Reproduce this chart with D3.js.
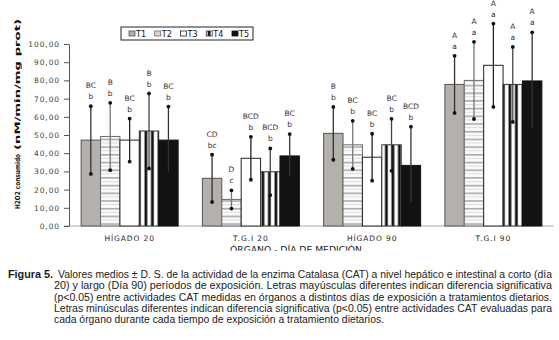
<!DOCTYPE html>
<html>
<head>
<meta charset="utf-8">
<script src="https://cdn.jsdelivr.net/npm/d3@7"></script>
<style>
  body { margin: 0; background: #fff; }
  svg { display: block; }
</style>
</head>
<body>
<div class="chart-container"></div>
<script>
// groups on the x axis, one bar per treatment in each
const groups = ['HÍGADO 20', 'T.G.I 20', 'HÍGADO 90', 'T.G.I 90'];
const treatments = ['T1', 'T2', 'T3', 'T4', 'T5'];

// means (H2O2 consumido) per treatment, in group order
const meanT1 = [47.2, 26.2, 50.9, 77.8];
const meanT2 = [49.2, 14.6, 44.6, 80.0];
const meanT3 = [47.2, 37.2, 37.8, 88.3];
const meanT4 = [52.2, 29.8, 44.6, 77.8];
const meanT5 = [47.2, 38.5, 33.3, 79.7];

// standard deviations
const sdT1 = [18.6, 13.0, 14.5, 15.7];
const sdT2 = [18.5, 5.0, 13.2, 21.2];
const sdT3 = [11.8, 11.8, 12.9, 22.9];
const sdT4 = [20.6, 12.8, 14.3, 20.6];
const sdT5 = [18.4, 12.0, 21.3, 26.7];

// significance letters
const upperT1 = ['BC', 'CD', 'B', 'A'];
const upperT2 = ['B', 'D', 'BC', 'A'];
const upperT3 = ['BC', 'BCD', 'BC', 'A'];
const upperT4 = ['B', 'BCD', 'BC', 'A'];
const upperT5 = ['BC', 'BC', 'BCD', 'A'];
const lowerT1 = ['b', 'bc', 'b', 'a'];
const lowerT2 = ['b', 'c', 'b', 'a'];
const lowerT3 = ['b', 'b', 'b', 'a'];
const lowerT4 = ['b', 'b', 'b', 'a'];
const lowerT5 = ['b', 'b', 'b', 'a'];

const yTicks = [0, 10, 20, 30, 40, 50, 60, 70, 80, 90, 100];

const yTitleA = 'H2O2 consumido';
const yTitleB = '(nM/min/mg prot)';
const xTitle = 'ÓRGANO - DÍA DE MEDICIÓN';
const captionLead = 'Figura 5.';
const captionLines = [
    'Valores medios ± D. S. de la actividad de la enzima Catalasa (CAT) a nivel hepático e intestinal a corto (día',
    '20) y largo (Día 90) períodos de exposición. Letras mayúsculas diferentes indican diferencia significativa',
    '(p<0.05) entre actividades CAT medidas en órganos a distintos días de exposición a tratamientos dietarios.',
    'Letras minúsculas diferentes indican diferencia significativa (p<0.05) entre actividades CAT evaluadas para',
    'cada órgano durante cada tiempo de exposición a tratamiento dietarios.'
];

const means = [meanT1, meanT2, meanT3, meanT4, meanT5];
const sds = [sdT1, sdT2, sdT3, sdT4, sdT5];
const uppers = [upperT1, upperT2, upperT3, upperT4, upperT5];
const lowers = [lowerT1, lowerT2, lowerT3, lowerT4, lowerT5];

const data = [];
groups.forEach((g, gi) => {
    treatments.forEach((t, ti) => {
        data.push({group: g, t: t, mean: means[ti][gi], sd: sds[ti][gi],
                   upper: uppers[ti][gi], lower: lowers[ti][gi]});
    });
});

const width = 559, height = 340;
const margin = {top: 44, right: 5, bottom: 114, left: 69};

const svg = d3.select('.chart-container').append('svg')
    .attr('width', width)
    .attr('height', height)
    .style('background', '#fff');

const defs = svg.append('defs');

// horizontal light stripes (T2)
const hp = defs.append('pattern')
    .attr('id', 'hstripe')
    .attr('patternUnits', 'userSpaceOnUse')
    .attr('width', 8).attr('height', 7.7);
hp.append('rect').attr('width', 8).attr('height', 7.7).attr('fill', '#fbfbfb');
hp.append('rect').attr('y', 0).attr('width', 8).attr('height', 1.6).attr('fill', '#a9a9a9');
hp.append('rect').attr('y', 3.9).attr('width', 8).attr('height', 1).attr('fill', '#dcdcdc');

// vertical black stripes (T4)
const vp = defs.append('pattern')
    .attr('id', 'vstripe')
    .attr('patternUnits', 'userSpaceOnUse')
    .attr('width', 6.5).attr('height', 10);
vp.append('rect').attr('width', 6.5).attr('height', 10).attr('fill', '#fff');
vp.append('rect').attr('x', 1.5).attr('width', 2.8).attr('height', 10).attr('fill', '#111');

const fills = {T1: '#b4b1ac', T2: 'url(#hstripe)', T3: '#fff', T4: 'url(#vstripe)', T5: '#121212'};
const strokes = {T1: '#555', T2: '#6a6a6a', T3: '#222', T4: '#333', T5: '#111'};
const whisker = {T1: '#333', T2: '#777', T3: '#222', T4: '#444', T5: '#333'};

const x0 = d3.scaleBand()
    .domain(groups)
    .range([margin.left, width - margin.right])
    .paddingInner(0.2)
    .paddingOuter(0.1);

const x1 = d3.scaleBand()
    .domain(treatments)
    .range([0, x0.bandwidth()]);

const y = d3.scaleLinear()
    .domain([0, 100])
    .range([height - margin.bottom, margin.top]);

// x baseline
svg.append('line')
    .attr('x1', margin.left - 5).attr('x2', width - margin.right)
    .attr('y1', y(0)).attr('y2', y(0))
    .attr('stroke', '#aaa').attr('stroke-width', 1);

// bars
svg.selectAll('.bar')
    .data(data)
    .enter()
    .append('rect')
    .attr('class', 'bar')
    .attr('x', d => x0(d.group) + x1(d.t))
    .attr('y', d => y(d.mean))
    .attr('width', x1.bandwidth())
    .attr('height', d => y(0) - y(d.mean))
    .attr('fill', d => fills[d.t])
    .attr('stroke', d => strokes[d.t])
    .attr('stroke-width', 1);

// error bars
const eb = svg.selectAll('.err')
    .data(data)
    .enter()
    .append('g')
    .attr('class', 'err')
    .attr('transform', d => `translate(${x0(d.group) + x1(d.t) + x1.bandwidth() / 2},0)`);

eb.append('line')
    .attr('y1', d => y(d.mean - d.sd))
    .attr('y2', d => y(d.mean + d.sd))
    .attr('stroke', d => whisker[d.t])
    .attr('stroke-width', 1.3);

eb.append('circle')
    .attr('cy', d => y(d.mean + d.sd))
    .attr('r', 1.9)
    .attr('fill', '#111');

eb.append('circle')
    .attr('cy', d => y(d.mean - d.sd))
    .attr('r', 1.9)
    .attr('fill', '#111');

eb.append('text')
    .text(d => d.lower)
    .attr('y', d => y(d.mean + d.sd) - 7)
    .attr('text-anchor', 'middle')
    .attr('font-family', 'DejaVu Sans, sans-serif')
    .attr('font-size', 7.5)
    .attr('fill', '#2f2a3a');

eb.append('text')
    .text(d => d.upper)
    .attr('y', d => y(d.mean + d.sd) - 18)
    .attr('text-anchor', 'middle')
    .attr('font-family', 'DejaVu Sans, sans-serif')
    .attr('font-size', 7.5)
    .attr('fill', '#3d2e2e');

// y axis
const yAxis = d3.axisLeft(y)
    .tickValues(yTicks)
    .tickSize(5)
    .tickSizeOuter(0)
    .tickPadding(4)
    .tickFormat(d => d.toFixed(2).replace('.', ','));

const ya = svg.append('g')
    .attr('transform', `translate(${margin.left},0)`)
    .call(yAxis);
ya.select('.domain').attr('stroke', '#555');
ya.selectAll('.tick line').attr('stroke', '#555');
ya.selectAll('.tick text')
    .attr('font-family', 'DejaVu Sans, sans-serif')
    .attr('font-size', 7.5)
    .attr('letter-spacing', 0.9)
    .attr('fill', '#444');

// group labels
svg.selectAll('.glabel')
    .data(groups)
    .enter()
    .append('text')
    .attr('class', 'glabel')
    .text(d => d)
    .attr('x', d => x0(d) + x0.bandwidth() / 2)
    .attr('y', 241)
    .attr('text-anchor', 'middle')
    .attr('font-family', 'DejaVu Sans, sans-serif')
    .attr('font-size', 7.5)
    .attr('letter-spacing', 0.9)
    .attr('fill', '#222');

// x title, cut off by the caption area
defs.append('clipPath').attr('id', 'xcut')
    .append('rect').attr('x', 0).attr('y', 200).attr('width', width).attr('height', 50.8);
svg.append('text')
    .attr('clip-path', 'url(#xcut)')
    .text(xTitle)
    .attr('x', 230)
    .attr('y', 252.5)
    .attr('textLength', 132)
    .attr('lengthAdjust', 'spacingAndGlyphs')
    .attr('font-family', 'DejaVu Sans, sans-serif')
    .attr('font-size', 8)
    .attr('fill', '#222');

// y title
svg.append('text')
    .text(yTitleA)
    .attr('transform', 'translate(20,209) rotate(-90)')
    .attr('textLength', 55)
    .attr('lengthAdjust', 'spacingAndGlyphs')
    .attr('font-family', 'DejaVu Sans, sans-serif')
    .attr('font-weight', 'bold')
    .attr('font-size', 7)
    .attr('fill', '#111');
svg.append('text')
    .text(yTitleB)
    .attr('transform', 'translate(20,150) rotate(-90)')
    .attr('textLength', 131)
    .attr('lengthAdjust', 'spacingAndGlyphs')
    .attr('font-family', 'DejaVu Sans, sans-serif')
    .attr('font-weight', 'bold')
    .attr('font-size', 7.5)
    .attr('fill', '#111');

// legend
const legend = svg.append('g').attr('transform', 'translate(121,27)');
legend.append('rect')
    .attr('width', 132).attr('height', 13)
    .attr('fill', '#fff').attr('stroke', '#222').attr('stroke-width', 1);

const lx = d3.scalePoint().domain(treatments).range([8, 111]);
const li = legend.selectAll('.li')
    .data(treatments)
    .enter()
    .append('g')
    .attr('class', 'li')
    .attr('transform', d => `translate(${lx(d)},0)`);
li.append('rect')
    .attr('y', 4).attr('width', 6).attr('height', 5)
    .attr('fill', d => d === 'T2' ? '#d6d6d6' : fills[d])
    .attr('stroke', d => strokes[d]).attr('stroke-width', 0.8);
li.append('text')
    .text(d => d)
    .attr('x', 7)
    .attr('y', 10)
    .attr('font-family', 'DejaVu Sans, sans-serif')
    .attr('font-size', 8)
    .attr('fill', '#111');

// caption: narrow look by squeezing the group horizontally
const sq = 0.86;
const cap = svg.append('g').attr('transform', `scale(${sq},1)`);
cap.append('text')
    .text(captionLead)
    .attr('x', 8 / sq).attr('y', 278)
    .attr('textLength', 45 / sq)
    .attr('lengthAdjust', 'spacingAndGlyphs')
    .attr('font-family', 'Liberation Sans, sans-serif')
    .attr('font-weight', 'bold')
    .attr('font-size', 11)
    .attr('fill', '#1a1a1a');

cap.selectAll('.cl')
    .data(captionLines)
    .enter()
    .append('text')
    .attr('class', 'cl')
    .text(d => d)
    .attr('x', (d, i) => (i === 0 ? 58 : 54) / sq)
    .attr('y', (d, i) => 278 + i * 11.3)
    .attr('textLength', (d, i) => (i === 0 ? 494 : i === 4 ? 330 : 498) / sq)
    .attr('lengthAdjust', 'spacingAndGlyphs')
    .attr('font-family', 'Liberation Sans, sans-serif')
    .attr('font-size', 10.5)
    .attr('fill', '#222');
</script>
</body>
</html>
